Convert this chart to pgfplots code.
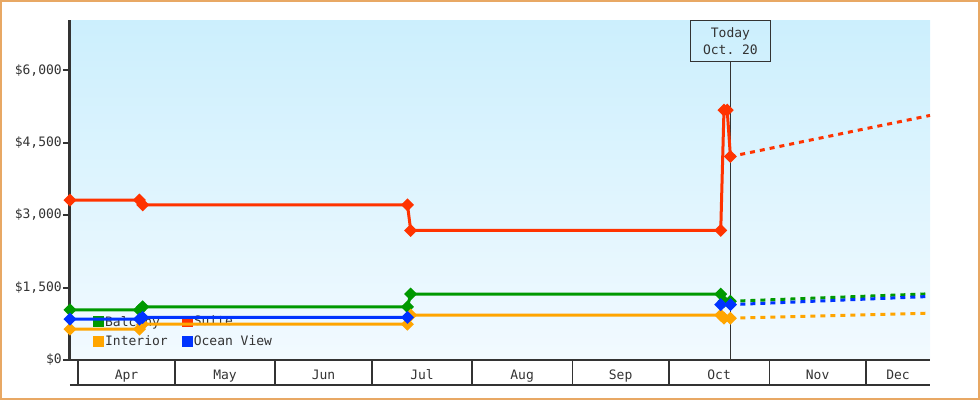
\documentclass[border=0pt]{standalone}
\usepackage{fontspec}
\setmonofont{DejaVu Sans Mono}
\usepackage{pgfplots}
\pgfplotsset{compat=1.18}
\definecolor{cBal}{RGB}{0,153,0}
\definecolor{cSui}{RGB}{255,51,0}
\definecolor{cInt}{RGB}{255,165,0}
\definecolor{cOce}{RGB}{0,51,255}
\definecolor{axgray}{RGB}{51,51,51}
\definecolor{bgtop}{RGB}{204,239,253}
\definecolor{bgbot}{RGB}{242,250,255}
\definecolor{framecol}{RGB}{232,168,100}
\newcommand{\chartfont}{\ttfamily\fontsize{13}{17}\selectfont}
\pgfplotsset{
  base/.style={scale only axis, width=860pt, height=340pt, at={(70pt,40pt)}, anchor=south west,
    xmin=-2.5, xmax=263.8, ymin=0, ymax=7035},
  ser/.style={line width=3pt, mark=square*, mark size=3.1pt, mark options={solid, rotate=45}},
  fc/.style={line width=3pt, dash pattern=on 5pt off 5pt, mark=none},
}
\begin{document}
\begin{tikzpicture}[x=1pt,y=1pt]
\draw[framecol, line width=2pt] (1,1) rectangle (979,399);
% background + legend (behind the data)
\begin{axis}[base, hide axis, legend columns=2,
  legend image code/.code={\fill[#1, draw=none] (0pt,-5.5pt) rectangle (11pt,5.5pt);},
  legend style={draw=none, fill=none, at={(0.0267,0.035)}, anchor=south west, inner sep=0pt,
    nodes={inner sep=1pt, text=axgray, font=\chartfont}, row sep=6pt,
    /tikz/every even column/.append style={column sep=13pt}},
  legend cell align=left]
\fill[top color=bgtop, bottom color=bgbot] (rel axis cs:0,0) rectangle (rel axis cs:1,1);
\addlegendimage{fill=cBal, draw=none}
\addlegendentry{Balcony}
\addlegendimage{fill=cSui, draw=none}
\addlegendentry{Suite}
\addlegendimage{fill=cInt, draw=none}
\addlegendentry{Interior}
\addlegendimage{fill=cOce, draw=none}
\addlegendentry{Ocean View}
\end{axis}
% data axis
\begin{axis}[base, clip=false,
  axis x line*=bottom, axis y line*=left,
  x axis line style={axgray, line width=1.5pt},
  y axis line style={axgray, line width=3pt},
  ytick={0,1500,3000,4500,6000},
  yticklabels={{\$0},{\$1,500},{\$3,000},{\$4,500},{\$6,000}},
  xtick={15,45.5,76,106.5,137.5,168,198.5,229,253.9},
  xticklabels={Apr,May,Jun,Jul,Aug,Sep,Oct,Nov,Dec},
  xtick style={draw=none},
  ytick style={axgray, line width=2pt},
  tick align=outside, major tick length=7pt,
  tick label style={font=\chartfont, text=axgray},
  yticklabel style={inner sep=1pt},
  xticklabel style={yshift=1pt}]
\draw[axgray, line width=1pt] (axis cs:202,0) -- (axis cs:202,6193);
\node[draw=axgray, line width=1pt, minimum width=80pt, minimum height=41pt, anchor=north,
  align=center, font=\chartfont, text=axgray, inner sep=0pt] at (axis cs:202,7035) {Today\\Oct. 20};
\pgfplotsinvokeforeach{0,30,61,91,122,153,183,214,244}{
  \draw[axgray, line width=1.2pt] (axis cs:#1,0) -- ([yshift=-25pt]axis cs:#1,0);}
\draw[axgray, line width=1.5pt] ([yshift=-25pt]rel axis cs:0,0) -- ([yshift=-25pt]rel axis cs:1,0);
% Balcony
\addplot[cBal, ser] coordinates {(-2.5,1035)(19,1035)(20,1100)(102,1100)(103,1365)(199,1365)(200,1215)(202,1215)};
\addplot[cBal, fc] coordinates {(202,1215)(263.8,1370)};
% Interior
\addplot[cInt, ser] coordinates {(-2.5,640)(19,640)(20,740)(102,740)(103,930)(199,930)(200,865)(202,865)};
\addplot[cInt, fc] coordinates {(202,865)(263.8,970)};
% Ocean View
\addplot[cOce, ser] coordinates {(-2.5,845)(19,845)(20,880)(102,880)};
\addplot[cOce, ser] coordinates {(199,1145)(202,1145)};
\addplot[cOce, fc] coordinates {(202,1145)(263.8,1315)};
% Suite
\addplot[cSui, ser] coordinates {(-2.5,3310)(19,3310)(20,3210)(102,3210)(103,2680)(199,2680)(200,5170)(201,5170)(202,4210)};
\addplot[cSui, fc] coordinates {(202,4210)(263.8,5060)};
\end{axis}
\pgfresetboundingbox
\path (0,0) rectangle (980,400);
\end{tikzpicture}
\end{document}
